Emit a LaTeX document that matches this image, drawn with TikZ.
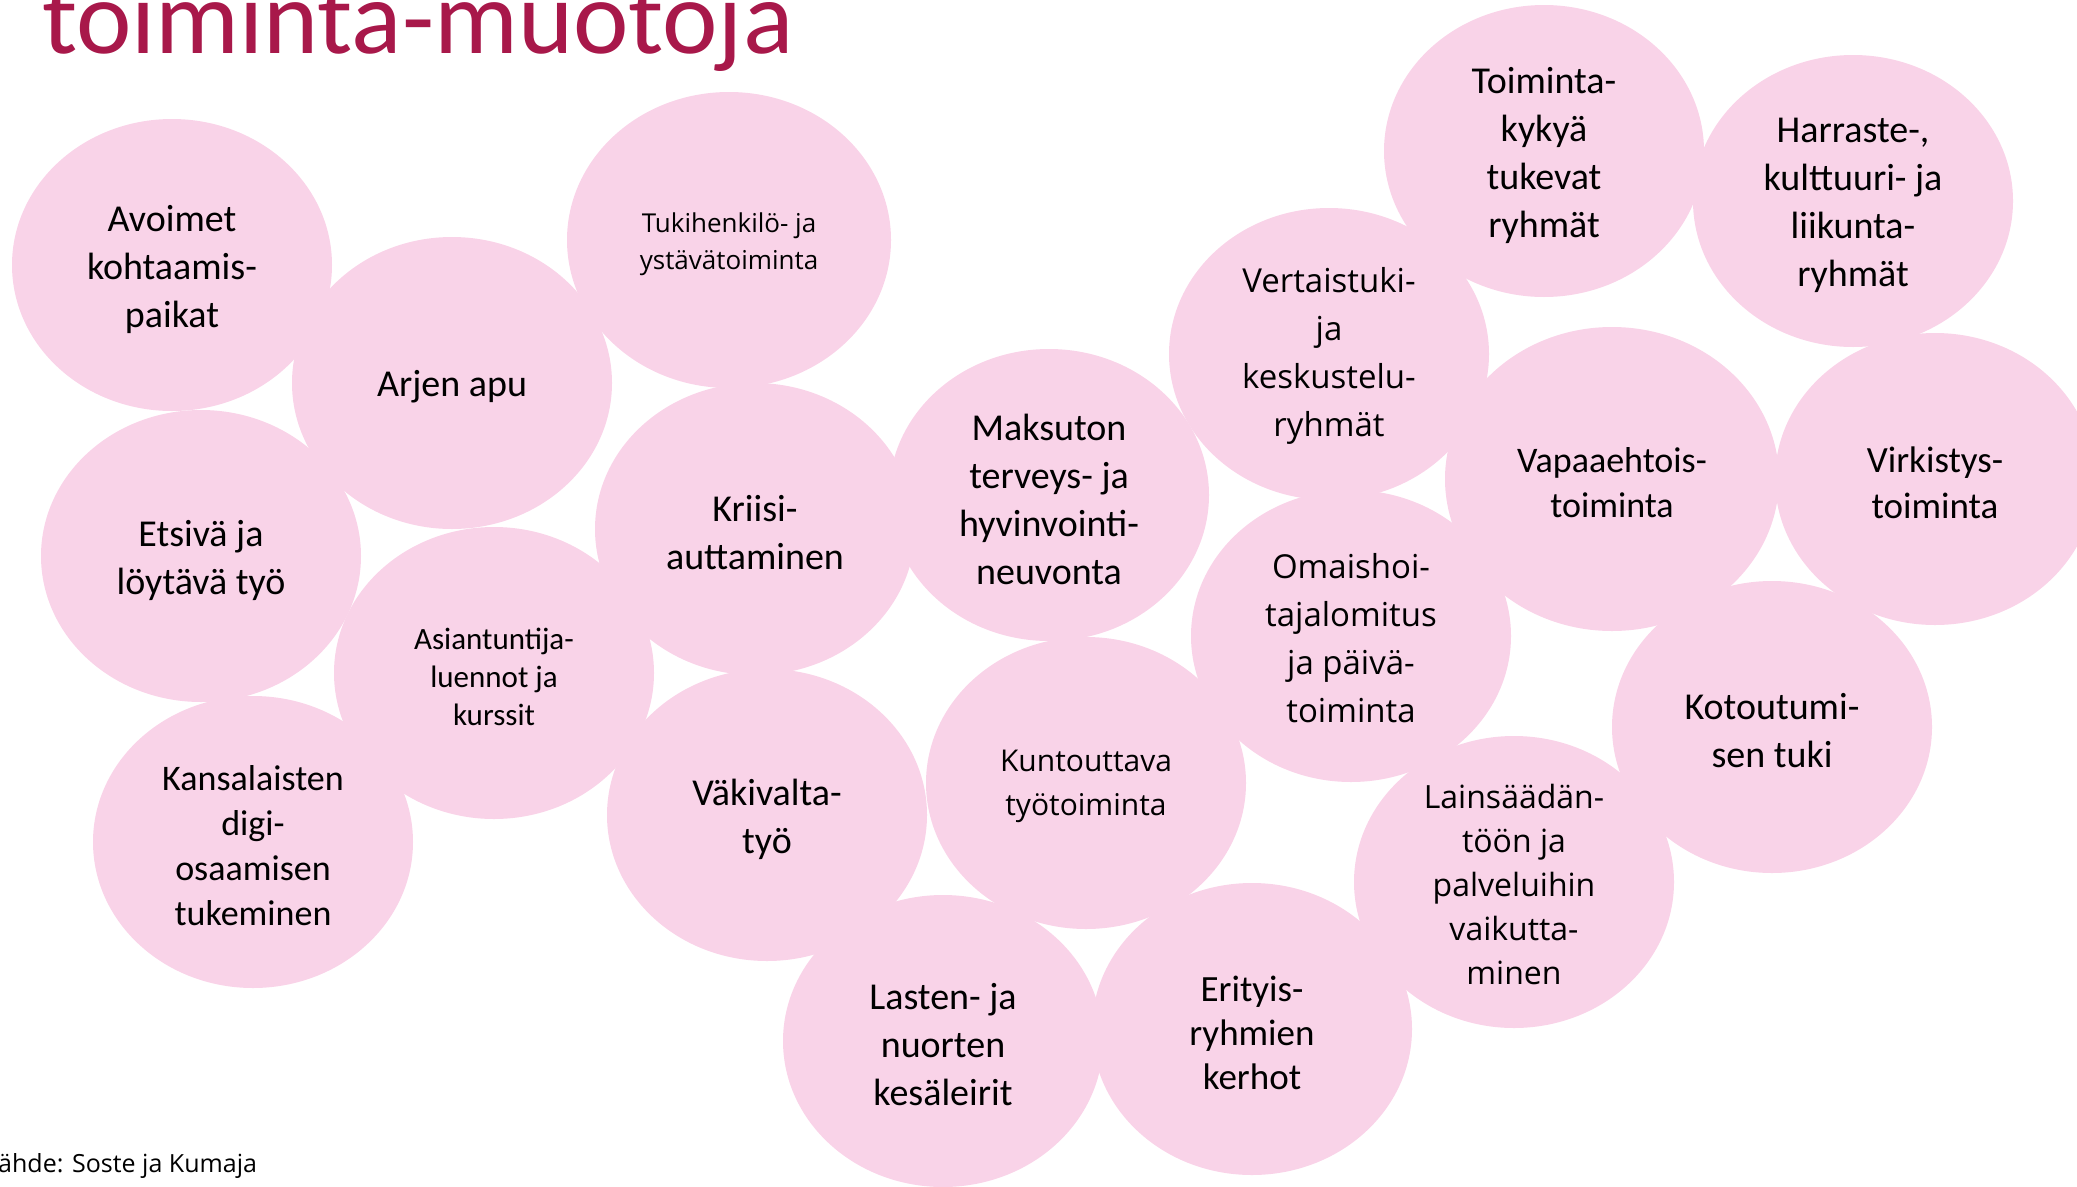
\documentclass[tikz,border=0pt]{standalone}
\usepackage{fontspec}
\setmainfont{Carlito}
\newfontfamily\segoe{Open Sans}
\definecolor{bubblepink}{RGB}{249,211,232}
\definecolor{titlered}{RGB}{168,24,74}
\begin{document}
\begin{tikzpicture}[x=1pt,y=-1pt,
  bub/.style={fill=bubblepink},
  cal/.style={align=center,inner sep=0pt,text=black,yshift=-4pt,font=\fontsize{38}{48}\selectfont},
  calsmall/.style={align=center,inner sep=0pt,text=black,yshift=-4pt,font=\fontsize{31}{38}\selectfont},
  seg/.style={align=center,inner sep=0pt,text=black,yshift=-2pt,font=\segoe\fontsize{33}{48}\selectfont},
  segmid/.style={align=center,inner sep=0pt,text=black,yshift=-3pt,font=\segoe\fontsize{30}{44}\selectfont},
  segsmall/.style={align=center,inner sep=0pt,text=black,yshift=-4pt,font=\segoe\fontsize{26}{37}\selectfont}]
\useasboundingbox (0,0) rectangle (2077,1186);
\clip (0,0) rectangle (2077,1186);
% bubbles
\fill[bub] (172,265) ellipse (160 and 146);
\fill[bub] (452,383) ellipse (160 and 146);
\fill[bub] (729,240) ellipse (162 and 148);
\fill[bub] (201,556) ellipse (160 and 146);
\fill[bub] (494,673) ellipse (160 and 146);
\fill[bub] (253,842) ellipse (160 and 146);
\fill[bub] (755,529) ellipse (160 and 146);
\fill[bub] (767,815) ellipse (160 and 146);
\fill[bub] (1049,495) ellipse (160 and 146);
\fill[bub] (1086,783) ellipse (160 and 146);
\fill[bub] (943,1041) ellipse (160 and 146);
\fill[bub] (1252,1029) ellipse (160 and 146);
\fill[bub] (1329,354) ellipse (160 and 146);
\fill[bub] (1351,636) ellipse (160 and 146);
\fill[bub] (1544,151) ellipse (160 and 146);
\fill[bub] (1853,201) ellipse (160 and 146);
\fill[bub] (1612,479) ellipse (167 and 152);
\fill[bub] (1935,479) ellipse (160 and 146);
\fill[bub] (1772,727) ellipse (160 and 146);
\fill[bub] (1514,882) ellipse (160 and 146);
% labels
\node[cal] (avo) at (172,265) {Avoimet\\kohtaamis-\\paikat};
\node[cal] (arj) at (452,383) {Arjen apu};
\node[segsmall] (tuk) at (729,240) {Tukihenkilö- ja\\ystävätoiminta};
\node[cal] (ets) at (201,556) {Etsivä ja\\löytävä työ};
\node[calsmall] (asi) at (494,673) {Asiantuntija-\\luennot ja\\kurssit};
\node[cal,font=\fontsize{36}{45}\selectfont] (kan) at (253,842) {Kansalaisten\\digi-\\osaamisen\\tukeminen};
\node[cal] (kri) at (755,529) {Kriisi-\\auttaminen};
\node[cal] (vak) at (767,815) {Väkivalta-\\työ};
\node[cal] (mak) at (1049,495) {Maksuton\\terveys- ja\\hyvinvointi-\\neuvonta};
\node[segmid] (kun) at (1086,783) {Kuntouttava\\työtoiminta};
\node[cal] (las) at (943,1041) {Lasten- ja\\nuorten\\kesäleirit};
\node[cal,font=\fontsize{37}{44}\selectfont] (eri) at (1252,1029) {Erityis-\\ryhmien\\kerhot};
\node[seg] (ver) at (1329,354) {Vertaistuki-\\ja\\keskustelu-\\ryhmät};
\node[seg] (oma) at (1351,636) {Omaishoi-\\tajalomitus\\ja päivä-\\toiminta};
\node[cal] (tko) at (1544,151) {Toiminta-\\kykyä\\tukevat\\ryhmät};
\node[cal] (har) at (1853,201) {Harraste-,\\kulttuuri- ja\\liikunta-\\ryhmät};
\node[cal,font=\fontsize{36}{45}\selectfont] (vap) at (1612,479) {Vapaaehtois-\\toiminta};
\node[cal,font=\fontsize{37}{46}\selectfont] (vir) at (1935,479) {Virkistys-\\toiminta};
\node[cal] (kot) at (1772,727) {Kotoutumi-\\sen tuki};
\node[seg,font=\segoe\fontsize{32}{44}\selectfont] (lai) at (1514,882) {Lainsäädän-\\töön ja\\palveluihin\\vaikutta-\\minen};
% title and source
\node[anchor=base west,inner sep=0pt,text=titlered,font=\fontsize{105}{115}\selectfont] (title) at (42,53) {toiminta-muotoja};
\node[anchor=base west,inner sep=0pt,text=black,font=\segoe\fontsize{25}{30}\selectfont] (src) at (-2,1172) {ähde: Soste ja Kumaja};
\end{tikzpicture}
\end{document}
